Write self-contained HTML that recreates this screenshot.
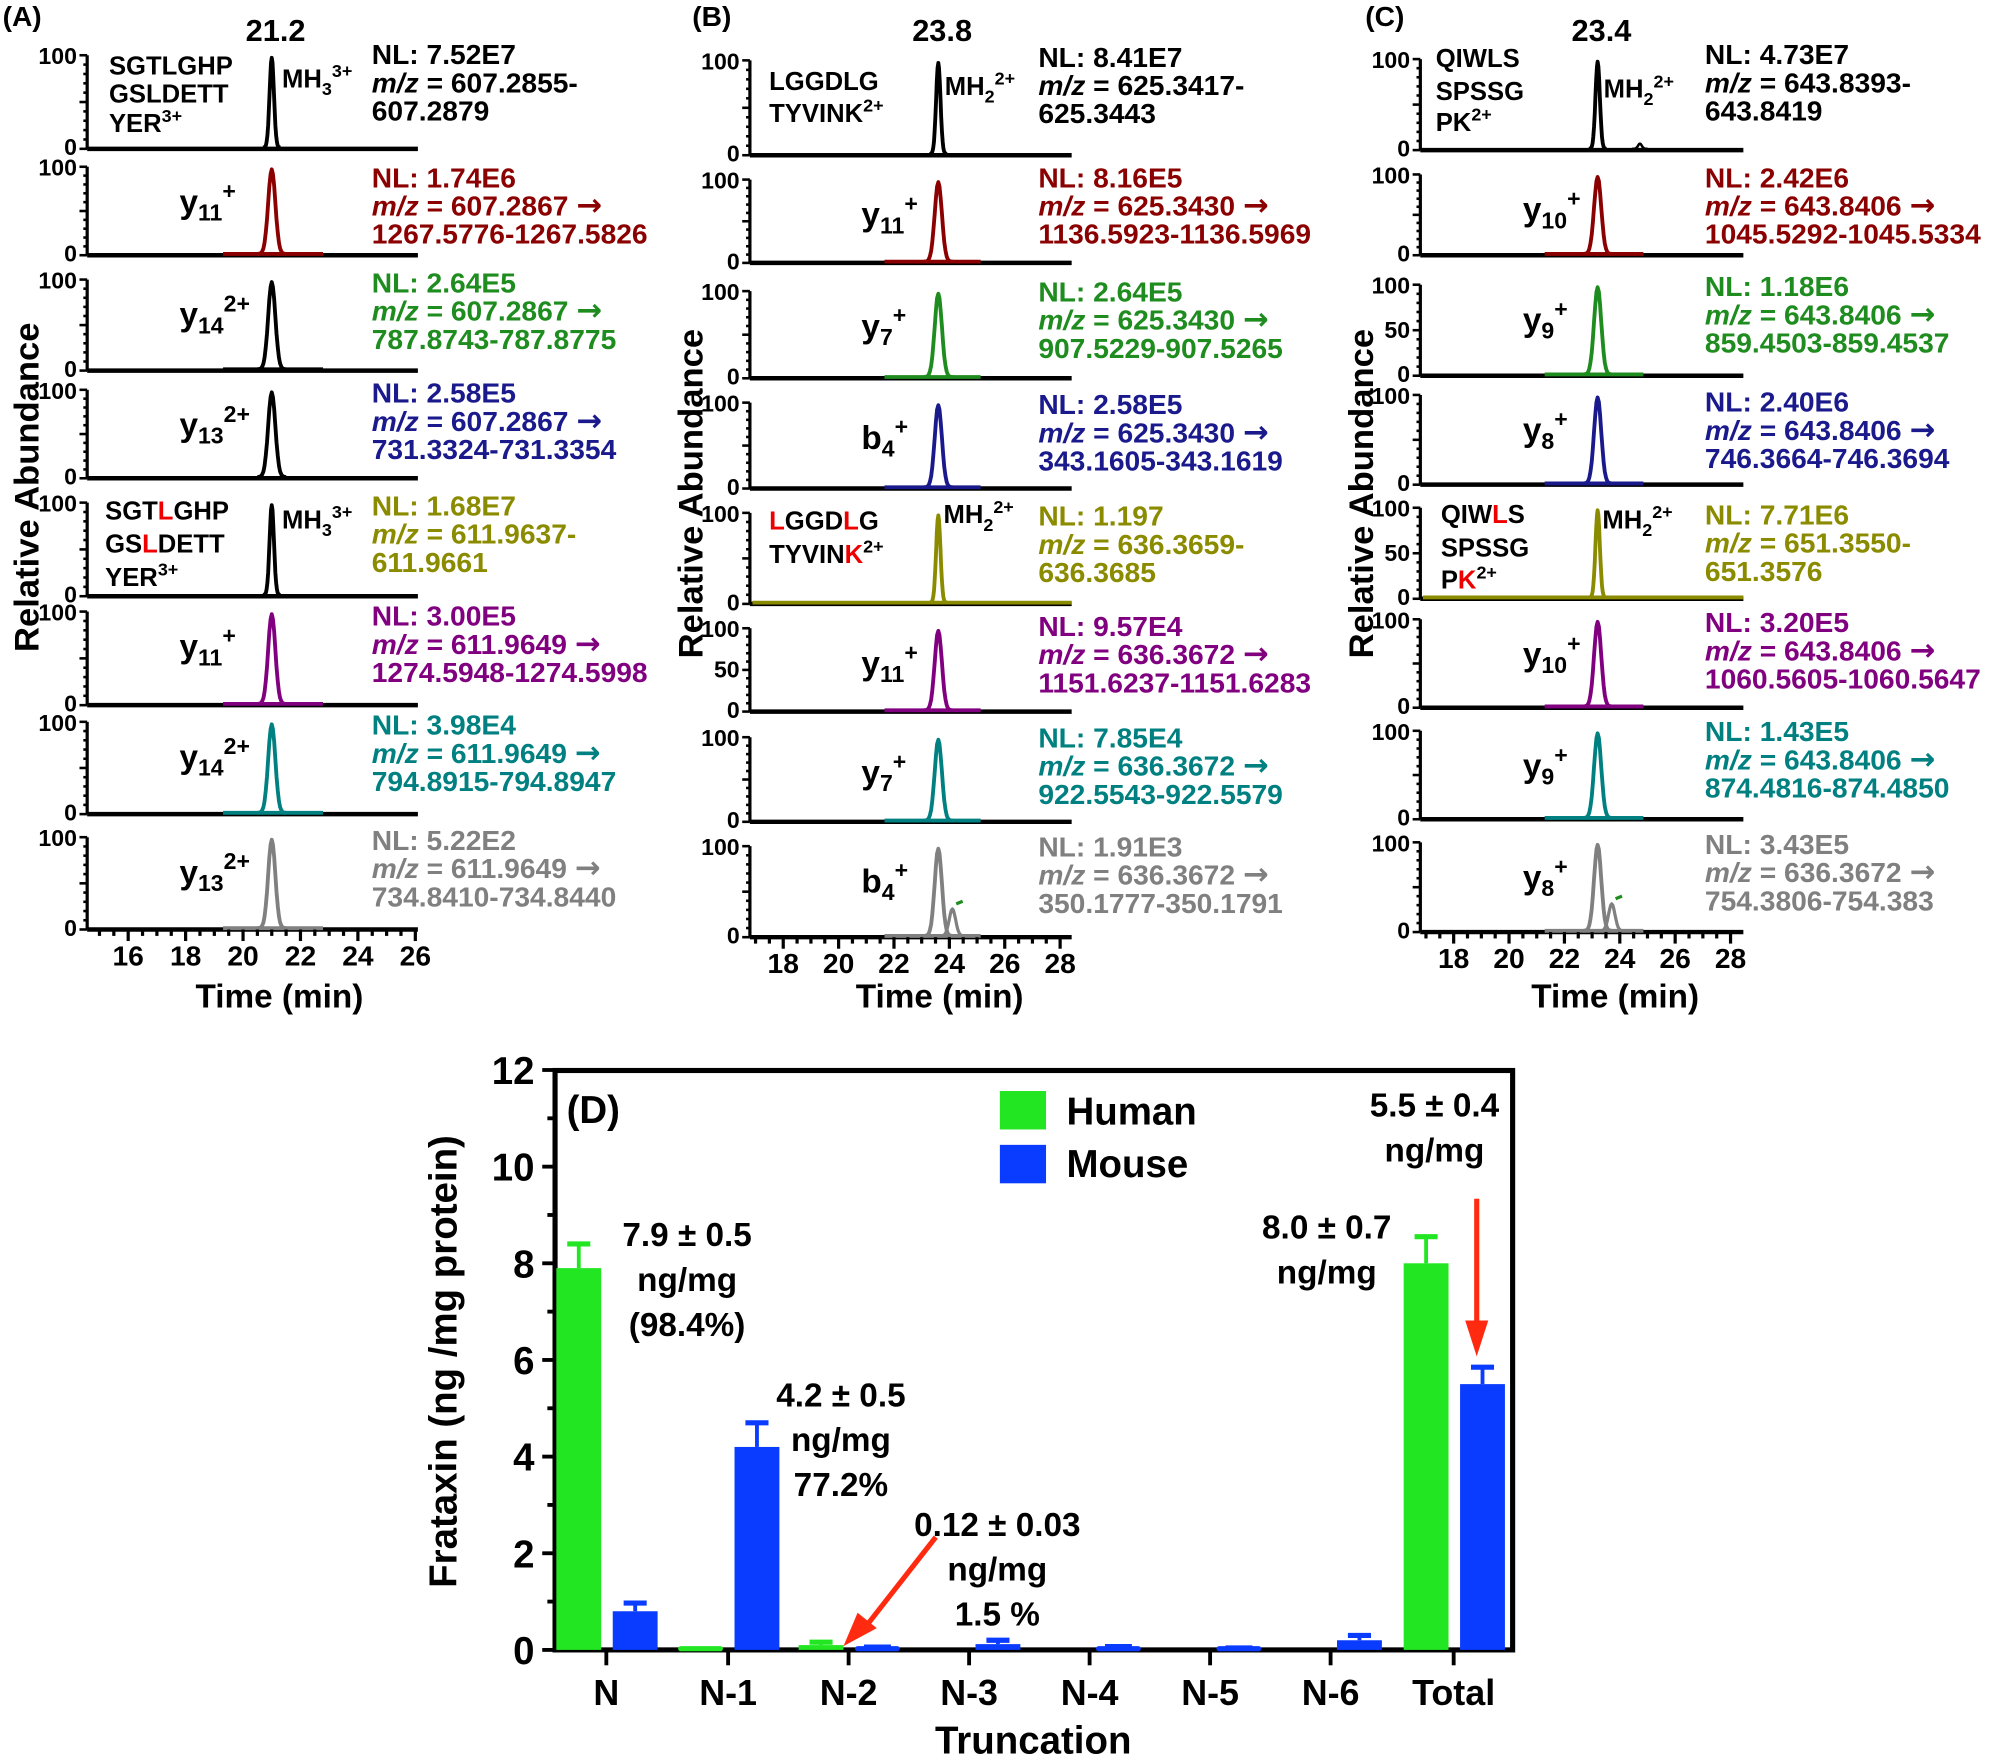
<!DOCTYPE html>
<html><head><meta charset="utf-8"><style>
html,body{margin:0;padding:0;background:#fff}
svg{display:block}
text{font-family:"Liberation Sans",Arial,sans-serif;font-weight:bold}
</style></head><body>
<svg id="s" xmlns="http://www.w3.org/2000/svg" width="2010" height="1759" viewBox="0 0 1568 1372">
<rect width="1568" height="1372" fill="#fff"/>
<g id="g"></g>
</svg>
<script>
const g=document.getElementById('g');let h='';
const C={k:'#000',r:'#8b0000',gr:'#1e8c1e',nv:'#1a1a8c',ol:'#8b8b00',pu:'#800080',te:'#008080',gy:'#808080'};
function T(x,y,s,sz,fill,extra){h+=`<text x="${x}" y="${y}" font-size="${sz}" fill="${fill||'#000'}" ${extra||''}>${s}</text>`;}
function L(x1,y1,x2,y2,c,w){h+=`<line x1="${x1}" y1="${y1}" x2="${x2}" y2="${y2}" stroke="${c}" stroke-width="${w}"/>`;}
function peak(cx,top,base,sig,col,w){let d='';for(let i=-12;i<=12;i++){let x=cx+i*sig/3;let y=base-(base-top)*Math.exp(-(i/3)*(i/3)/2);d+=(i==-12?'M':'L')+x.toFixed(1)+' '+y.toFixed(1);}h+=`<path d="${d}" fill="none" stroke="${col}" stroke-width="${w}" stroke-linejoin="round"/>`;}
const panels=[
{ax:68,end:326,t0:16,x0:100,ppm:22.4,pk:21.0,seg:[174,252],tl:['16','18','20','22','24','26'],tcx:218,
 rows:[[43,113],[130,196],[218,286],[304,370],[392,462],[477,547],[563,632],[653,722]],
 pc:['k','r','k','k','k','pu','te','gy'],sc:[null,'r','k',null,null,'pu','te','gy'],
 tx:290,ty:[42,138,220,306,394,480,565,655],mid:[],lab:'(A)',labx:2,pl:'21.2',ylx:22,frag:140,
 nl:[['NL: 7.52E7','=  607.2855-','607.2879'],['NL: 1.74E6','= 607.2867 →','1267.5776-1267.5826'],['NL: 2.64E5','= 607.2867 →','787.8743-787.8775'],['NL: 2.58E5','= 607.2867 →','731.3324-731.3354'],['NL: 1.68E7','= 611.9637-','611.9661'],['NL: 3.00E5','= 611.9649 →','1274.5948-1274.5998'],['NL: 3.98E4','= 611.9649 →','794.8915-794.8947'],['NL: 5.22E2','= 611.9649 →','734.8410-734.8440']],
 fr:[null,['11','+'],['14','2+'],['13','2+'],null,['11','+'],['14','2+'],['13','2+']],fl:'y'},
{ax:585,end:836,t0:18,x0:611,ppm:21.6,pk:23.6,seg:[690,765],tl:['18','20','22','24','26','28'],tcx:733,
 rows:[[47,118],[140,202],[227,292],[314,378],[400,468],[490,552],[575,638],[660,728]],
 pc:['k','r','gr','nv','ol','pu','te','gy'],sc:[null,'r','gr','nv','olfull','pu','te','gy'],
 tx:810,ty:[44,138,227,315,402,488,575,660],mid:[5],lab:'(B)',labx:540,pl:'23.8',ylx:540,frag:672,
 nl:[['NL: 8.41E7','=  625.3417-','625.3443'],['NL: 8.16E5','= 625.3430 →','1136.5923-1136.5969'],['NL: 2.64E5','= 625.3430 →','907.5229-907.5265'],['NL: 2.58E5','= 625.3430 →','343.1605-343.1619'],['NL: 1.197','= 636.3659-','636.3685'],['NL: 9.57E4','= 636.3672 →','1151.6237-1151.6283'],['NL: 7.85E4','= 636.3672 →','922.5543-922.5579'],['NL: 1.91E3','= 636.3672 →','350.1777-350.1791']],
 fr:[null,['y','11','+'],['y','7','+'],['b','4','+'],null,['y','11','+'],['y','7','+'],['b','4','+']]},
{ax:1108,end:1360,t0:18,x0:1134,ppm:21.6,pk:23.2,seg:[1205,1282],tl:['18','20','22','24','26','28'],tcx:1260,
 rows:[[46,114],[136,196],[222,290],[308,375],[396,464],[483,549],[570,636],[657,724]],
 pc:['k','r','gr','nv','ol','pu','te','gy'],sc:[null,'r','gr','nv','olfull','pu','te','gy'],
 tx:1330,ty:[42,138,223,313,401,485,570,658],mid:[2,4],lab:'(C)',labx:1065,pl:'23.4',ylx:1063,frag:1188,
 nl:[['NL: 4.73E7','= 643.8393-','643.8419'],['NL: 2.42E6','= 643.8406 →','1045.5292-1045.5334'],['NL: 1.18E6','= 643.8406 →','859.4503-859.4537'],['NL: 2.40E6','= 643.8406 →','746.3664-746.3694'],['NL: 7.71E6','= 651.3550-','651.3576'],['NL: 3.20E5','= 643.8406 →','1060.5605-1060.5647'],['NL: 1.43E5','= 643.8406 →','874.4816-874.4850'],['NL: 3.43E5','= 636.3672 →','754.3806-754.383']],
 fr:[null,['y','10','+'],['y','9','+'],['y','8','+'],null,['y','10','+'],['y','9','+'],['y','8','+']]}
];
const tcol=['k','r','gr','nv','ol','pu','te','gy'];
panels.forEach((p,pi)=>{
 const px=p.x0+(p.pk-p.t0)*p.ppm;
 T(p.labx,20,p.lab,22);
 T(px+3,32,p.pl,24,'#000','text-anchor="middle"');
 h+=`<text transform="translate(${p.ylx+8},${pi==0?380:385}) rotate(-90)" font-size="27" text-anchor="middle">Relative Abundance</text>`;
 p.rows.forEach((r,i)=>{
  const [t,b]=r;const base=b+3;
  L(p.ax,t,p.ax,base,'#000',2.5);
  for(let k=0;k<=10;k++){let y=base-(base-t)*k/10;L(p.ax-(k%5==0?6:3),y,p.ax,y,'#000',2);}
  T(p.ax-8,t+7,'100',18,'#000','text-anchor="end"');
  T(p.ax-8,base+5,'0',18,'#000','text-anchor="end"');
  if((p.mid||[]).includes(i))T(p.ax-8,(t+base)/2+6,'50',18,'#000','text-anchor="end"');
  L(p.ax,base,p.end,base,'#000',3.5);
  const sc=p.sc[i];
  if(sc==='olfull')L(p.ax+2,base-1,p.end,base-1,C.ol,3);
  else if(sc)L(p.seg[0],base-1,p.seg[1],base-1,C[sc],3);
  const sig=i==0||i==4?1.7:2.8;
  peak(px,t+2,base-1,sig,C[p.pc[i]],3);
  if(pi>0&&i==7){peak(px+11,base-22,base-1,2.5,C.gy,2.5);L(px+14,base-26,px+19,base-28,C.gr,2.5);}
  if(pi==2&&i==0)peak(px+33,base-5,base-1,1.5,'#000',2);
  const col=C[tcol[i]];const ty=p.ty[i]+8;
  T(p.tx,ty,p.nl[i][0],22,col);
  let mid=p.nl[i][1].replace('→','<tspan font-family="DejaVu Sans" font-size="24">→</tspan>');
  h+=`<text x="${p.tx}" y="${ty+22}" font-size="22" fill="${col}"><tspan font-style="italic">m/z</tspan> ${mid}</text>`;
  T(p.tx,ty+44,p.nl[i][2],22,col);
  const f=p.fr[i];
  if(f){
   const y=t+36;
   if(pi==0)h+=`<text x="${p.frag}" y="${y}" font-size="26">y<tspan font-size="18" dy="6">${f[0]}</tspan><tspan font-size="18" dy="-17">${f[1]}</tspan></text>`;
   else h+=`<text x="${p.frag}" y="${y}" font-size="26">${f[0]}<tspan font-size="18" dy="6">${f[1]}</tspan><tspan font-size="18" dy="-17">${f[2]}</tspan></text>`;
  }
 });
 const lb=p.rows[7][1]+3;
 for(let k=0;k<=24;k++){let t=p.t0-2+k*0.5;let x=p.x0+(t-p.t0)*p.ppm;if(x<p.ax-1||x>p.end+1)continue;const maj=Math.abs(t-Math.round(t))<0.01&&Math.round(t)%2==0;L(x,lb,x,lb+(maj?9:5),'#000',2.5);}
 p.tl.forEach((s,k)=>{T(p.x0+k*2*p.ppm,lb+28,s,22,'#000','text-anchor="middle"');});
 T(p.tcx,786,'Time (min)',26,'#000','text-anchor="middle"');
});
T(85,58,'SGTLGHP',20);T(85,80,'GSLDETT',20);h+=`<text x="85" y="103" font-size="20">YER<tspan font-size="14" dy="-8">3+</tspan></text>`;
h+=`<text x="220" y="68" font-size="20">MH<tspan font-size="14" dy="6">3</tspan><tspan font-size="14" dy="-14">3+</tspan></text>`;
h+=`<text x="82" y="405" font-size="20">SGT<tspan fill="#e00">L</tspan>GHP</text><text x="82" y="431" font-size="20">GS<tspan fill="#e00">L</tspan>DETT</text><text x="82" y="457" font-size="20">YER<tspan font-size="14" dy="-8">3+</tspan></text>`;
h+=`<text x="220" y="412" font-size="20">MH<tspan font-size="14" dy="6">3</tspan><tspan font-size="14" dy="-14">3+</tspan></text>`;
T(600,70,'LGGDLG',20);h+=`<text x="600" y="95" font-size="20">TYVINK<tspan font-size="14" dy="-8">2+</tspan></text>`;
h+=`<text x="737" y="74" font-size="20">MH<tspan font-size="14" dy="6">2</tspan><tspan font-size="14" dy="-14">2+</tspan></text>`;
h+=`<text x="600" y="413" font-size="20"><tspan fill="#e00">L</tspan>GGD<tspan fill="#e00">L</tspan>G</text><text x="600" y="439" font-size="20">TYVIN<tspan fill="#e00">K</tspan><tspan font-size="14" dy="-8">2+</tspan></text>`;
h+=`<text x="736" y="408" font-size="20">MH<tspan font-size="14" dy="6">2</tspan><tspan font-size="14" dy="-14">2+</tspan></text>`;
T(1120,52,'QIWLS',20);T(1120,78,'SPSSG',20);h+=`<text x="1120" y="102" font-size="20">PK<tspan font-size="14" dy="-8">2+</tspan></text>`;
h+=`<text x="1251" y="76" font-size="20">MH<tspan font-size="14" dy="6">2</tspan><tspan font-size="14" dy="-14">2+</tspan></text>`;
h+=`<text x="1124" y="408" font-size="20">QIW<tspan fill="#e00">L</tspan>S</text><text x="1124" y="434" font-size="20">SPSSG</text><text x="1124" y="459" font-size="20">P<tspan fill="#e00">K</tspan><tspan font-size="14" dy="-8">2+</tspan></text>`;
h+=`<text x="1250" y="412" font-size="20">MH<tspan font-size="14" dy="6">2</tspan><tspan font-size="14" dy="-14">2+</tspan></text>`;
const X0=433,X1=1180,Y0=1287,ppu=37.7;const Y=v=>Y0-v*ppu;
h+=`<rect x="${X0}" y="835" width="${X1-X0}" height="${Y0-835}" fill="none" stroke="#000" stroke-width="4"/>`;
for(let v=0;v<=12;v++){L(X0-(v%2==0?10:6),Y(v),X0,Y(v),'#000',3);if(v%2==0)T(X0-16,Y(v)+11,String(v),30,'#000','text-anchor="end"');}
const cats=['N','N-1','N-2','N-3','N-4','N-5','N-6','Total'];const cx=[473,568,662,756,850,944,1038,1134];
const hum=[[7.9,0.5],[0.02,0],[0.1,0.06],null,null,null,null,[8.0,0.55]];
const mou=[[0.8,0.17],[4.2,0.5],[0.04,0.02],[0.12,0.08],[0.05,0.02],[0.03,0.01],[0.2,0.1],[5.5,0.35]];
function bar(x,v,e,col){const w=35;if(v<0.06){h+=`<rect x="${x}" y="${Y0-3}" width="${w}" height="4" fill="${col}" rx="2"/>`;if(e)L(x+7,Y(v+e),x+w-7,Y(v+e),col,4);return;}
 h+=`<rect x="${x}" y="${Y(v)}" width="${w}" height="${v*ppu}" fill="${col}"/>`;
 if(e){L(x+w/2,Y(v),x+w/2,Y(v+e),col,3);L(x+w/2-9,Y(v+e),x+w/2+9,Y(v+e),col,4);}}
cats.forEach((c,i)=>{const x=cx[i];if(hum[i])bar(x-39,hum[i][0],hum[i][1],'#22e622');bar(x+5,mou[i][0],mou[i][1],'#0a3cff');L(x,Y0,x,Y0+12,'#000',3);T(x,Y0+43,c,28,'#000','text-anchor="middle"');});
T(806,1368,'Truncation',30,'#000','text-anchor="middle"');
h+=`<text transform="translate(356,1062) rotate(-90)" font-size="30" text-anchor="middle">Frataxin (ng /mg protein)</text>`;
T(442,876,'(D)',30);
h+=`<rect x="780" y="851" width="36" height="30" fill="#22e622"/><rect x="780" y="893" width="36" height="30" fill="#0a3cff"/>`;
T(832,877,'Human',30);T(832,918,'Mouse',30);
const ann=(x,ys,ls)=>ls.forEach((s,k)=>T(x,ys+k*35,s,26,'#000','text-anchor="middle"'));
ann(536,972,['7.9 ± 0.5','ng/mg','(98.4%)']);
ann(656,1097,['4.2 ± 0.5','ng/mg','77.2%']);
ann(778,1198,['0.12 ± 0.03','ng/mg','1.5 %']);
ann(1035,966,['8.0 ± 0.7','ng/mg']);
ann(1119,871,['5.5 ± 0.4','ng/mg']);
L(730,1199,676,1268,'#ff2a10',4);h+=`<polygon points="658,1284 669,1258 684,1270" fill="#ff2a10"/>`;
L(1152,935,1152,1035,'#ff2a10',4);h+=`<polygon points="1143,1030 1161,1030 1152,1058" fill="#ff2a10"/>`;
g.innerHTML=h;
</script>
</body></html>
